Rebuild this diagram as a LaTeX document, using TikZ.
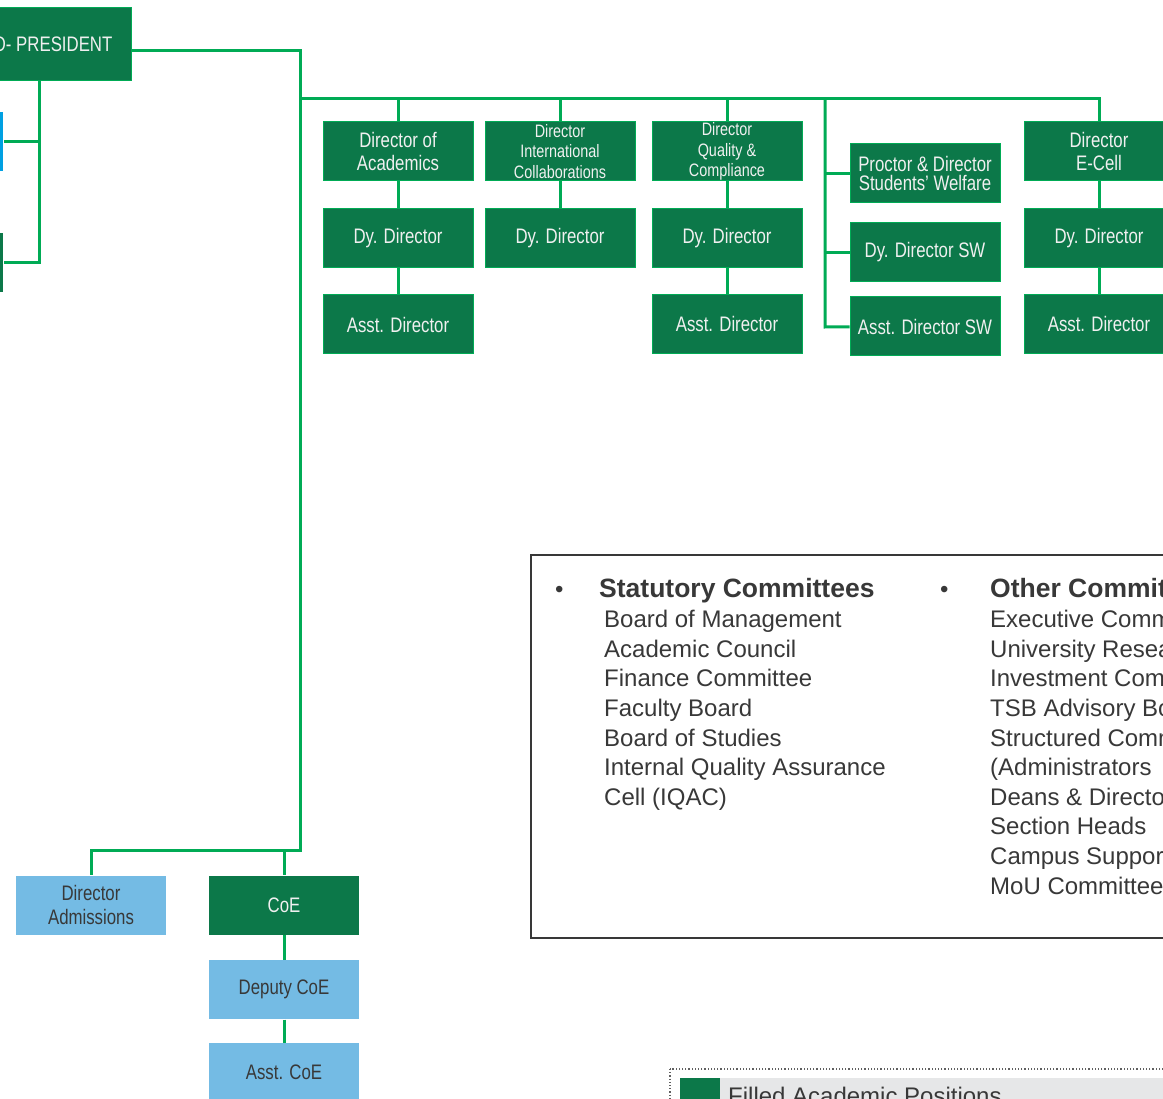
\documentclass[tikz,border=0pt]{standalone}
\usepackage{fontspec}
\setmainfont{Liberation Sans}
\newfontfamily\boxfont[FakeStretch=0.8]{Liberation Sans}
\definecolor{dgreen}{HTML}{0C7849}
\definecolor{lgreen}{HTML}{00AB55}
\definecolor{sky}{HTML}{74BBE4}
\definecolor{cyanb}{HTML}{00A0E2}
\definecolor{ink}{HTML}{383838}
\definecolor{paper}{HTML}{E6E7E8}

\begin{document}
\begin{tikzpicture}[x=1pt, y=-1pt,
  link/.style={draw=lgreen, line width=3pt},
  gbox/.style={rectangle, fill=dgreen, draw=lgreen, line width=1pt, text=white!94!black,
    minimum width=150pt, minimum height=59pt, inner sep=0pt, align=center,
    font=\boxfont\fontsize{21}{23}\selectfont},
  bbox/.style={gbox, fill=sky, draw=none, text=ink, font=\boxfont\fontsize{21}{24}\selectfont},
  small/.style={font=\boxfont\fontsize{18}{20.5}\selectfont},
  item/.style={anchor=base west, text=ink, inner sep=0pt, font=\fontsize{24}{28}\selectfont},
  head/.style={item, font=\bfseries\fontsize{26.5}{30}\selectfont}]
\useasboundingbox (0,0) rectangle (1163,1099);
\clip (0,0) rectangle (1163,1099);

\coordinate (top) at (300,51);
\coordinate (bus) at (300,99);
\coordinate (foot) at (300,850);
\coordinate (swtop) at (825,99);
\coordinate (swend) at (825,327);
\coordinate (lspine) at (39,262.5);

\node[gbox, minimum width=180pt, minimum height=73pt] (pres) at (41,44.5) {PRO- PRESIDENT};
\node[gbox, fill=cyanb, draw=none] (lblue) at (-72,141.5) {};
\node[gbox, draw=none] (lgrn) at (-72,262.5) {};

\node[gbox] (acad) at (398,151.5) {Director of\\Academics};
\node[gbox] (acaddy) at (398,238.5) {Dy. Director};
\node[gbox] (acadas) at (398,324.5) {Asst. Director};
\node[gbox, small] (intl) at (560,151.5) {Director\\International\\Collaborations};
\node[gbox] (intldy) at (560,238) {Dy. Director};
\node[gbox, small] (qual) at (727,151.5) {Director\\Quality \&\\Compliance};
\node[gbox] (qualdy) at (727,238) {Dy. Director};
\node[gbox] (qualas) at (727,324) {Asst. Director};
\node[gbox, font=\boxfont\fontsize{21}{19}\selectfont] (proc) at (925,173.5) {Proctor \& Director\\Students’ Welfare};
\node[gbox] (swdy) at (925,252.5) {Dy. Director SW};
\node[gbox] (swas) at (925,326.5) {Asst. Director SW};
\node[gbox] (ecell) at (1099,151.5) {Director\\E-Cell};
\node[gbox] (ecelldy) at (1099,238) {Dy. Director};
\node[gbox] (ecellas) at (1099,324) {Asst. Director};

\node[bbox] (adm) at (91,905) {Director\\Admissions};
\node[gbox, draw=none] (coe) at (284,905) {CoE};
\node[bbox] (coedy) at (284,989.5) {Deputy CoE};
\node[bbox] (coeas) at (284,1072.5) {Asst. CoE};

\draw[link] (pres.east |- top) -- (top) -- (foot) -| (adm);
\draw[link] (coe |- foot) -- (coe);
\draw[link] (coe) -- (coedy) -- (coeas);
\draw[link] (pres.south -| lspine) -- (lspine) -- (lgrn);
\draw[link] (lblue -| lspine) -- (lblue);
\draw[link] (bus) -| (ecell);
\draw[link] (acad |- bus) -- (acad);
\draw[link] (intl |- bus) -- (intl);
\draw[link] (qual |- bus) -- (qual);
\draw[link] (swtop) -- (swend) -- (swas);
\draw[link] (proc -| swtop) -- (proc);
\draw[link] (swdy -| swtop) -- (swdy);
\draw[link] (acad) -- (acaddy) -- (acadas);
\draw[link] (intl) -- (intldy);
\draw[link] (qual) -- (qualdy) -- (qualas);
\draw[link] (ecell) -- (ecelldy) -- (ecellas);

% committees
\draw[ink, line width=2pt] (531,555) rectangle (1190,938);
\node[item] (dot1) at (555,597) {•};
\node[head] (stat) at (599,597) {Statutory Committees};
\foreach \t [count=\i] in {Board of Management, Academic Council, Finance Committee,
  Faculty Board, Board of Studies, Internal Quality Assurance, {Cell (IQAC)}}
  \node[item] at (604,598+29.6*\i) {\t};
\node[item] (dot2) at (940,597) {•};
\node[head] (other) at (990,597) {Other Committees};
\foreach \t [count=\i] in {Executive Committee, University Research Board, Investment Committee,
  TSB Advisory Board, Structured Committees, {(Administrators}, Deans \& Directors,
  Section Heads, Campus Support Services, MoU Committee}
  \node[item] at (990,598+29.6*\i) {\t};

% legend
\draw[ink!80, dotted, line width=1.2pt] (670,1069) rectangle (1200,1200);
\fill[paper] (680,1078) rectangle (1200,1200);
\fill[dgreen] (680,1078) rectangle (720,1130);
\node[item, font=\fontsize{24}{28}\selectfont] (filled) at (728,1104) {Filled Academic Positions};
\end{tikzpicture}
\end{document}
